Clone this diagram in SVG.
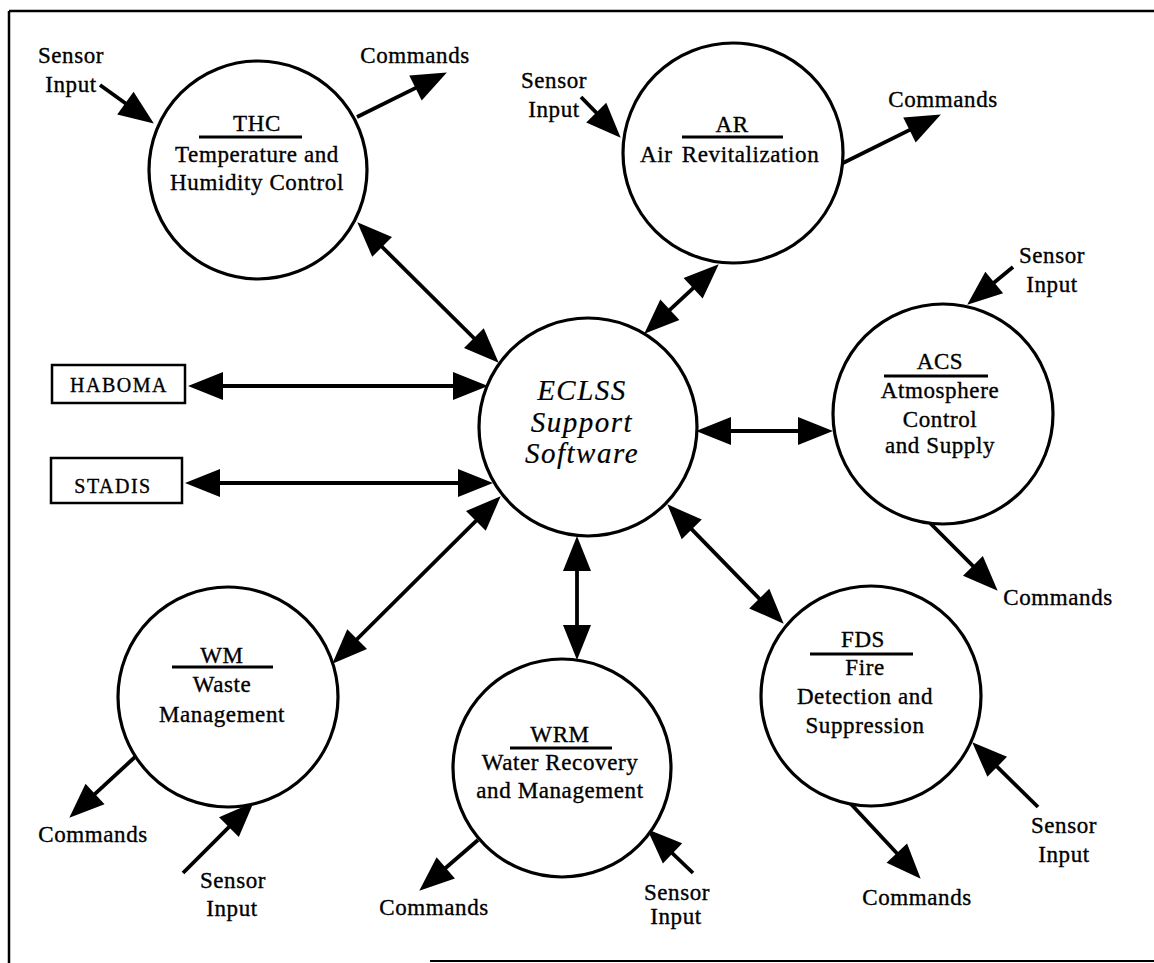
<svg xmlns="http://www.w3.org/2000/svg" width="1154" height="963" viewBox="0 0 1154 963">
<style>
text{font-family:"Liberation Serif","Times New Roman",serif;font-size:23px;fill:#000;stroke:#000;stroke-width:0.35;letter-spacing:0.6px;text-anchor:middle}
.bubble{fill:#fff;stroke:#000;stroke-width:3.2}
.ul{stroke:#000;stroke-width:3.2}
.box{fill:#fff;stroke:#000;stroke-width:2.5}
.boxt{font-size:20px;letter-spacing:1.5px}
.main{font-style:italic;font-size:29px;letter-spacing:1.5px;stroke-width:0.2}
.c line{stroke:#000;stroke-width:3.8;fill:none}
.one{marker-end:url(#ah)}
.two{marker-start:url(#ah);marker-end:url(#ah)}
</style>
<defs>
<marker id="ah" markerUnits="userSpaceOnUse" markerWidth="40" markerHeight="32" refX="24" refY="14" orient="auto-start-reverse" overflow="visible">
<path d="M0,0 L35,14 L0,28 z" fill="#000"/>
</marker>
</defs>
<rect width="1154" height="963" fill="#fff"/>
<g id="frame" fill="none" stroke="#000" stroke-width="2.5">
<line x1="9" y1="11" x2="1154" y2="11"/>
<line x1="9" y1="11" x2="9" y2="963"/>
<line x1="430" y1="961" x2="1154" y2="961" stroke-width="2"/>
</g>
<g id="connectors" class="c">
<line class="one" x1="100" y1="85" x2="144.9" y2="117.2"/>
<line class="one" x1="357" y1="117" x2="437" y2="77.4"/>
<line class="one" x1="581" y1="97" x2="613" y2="129.8"/>
<line class="one" x1="843" y1="163" x2="931" y2="119.4"/>
<line class="two" x1="365.1" y1="230" x2="490.9" y2="355"/>
<line class="two" x1="710.7" y1="271.8" x2="652.3" y2="326.2"/>
<line class="two" x1="199" y1="386" x2="477" y2="386"/>
<line class="two" x1="196" y1="483" x2="482" y2="483"/>
<line class="two" x1="707" y1="431" x2="822" y2="431"/>
<line class="one" x1="1013" y1="267" x2="975.7" y2="297.7"/>
<line class="one" x1="930" y1="523" x2="989.9" y2="582.9"/>
<line class="two" x1="675" y1="512.2" x2="776" y2="615.8"/>
<line class="one" x1="850" y1="803" x2="913.2" y2="870.7"/>
<line class="one" x1="1038" y1="807" x2="980.1" y2="750"/>
<line class="two" x1="577" y1="547" x2="577" y2="649"/>
<line class="one" x1="478" y1="840" x2="427.6" y2="883.5"/>
<line class="one" x1="693" y1="873" x2="655.2" y2="836.9"/>
<line class="two" x1="492.9" y1="504" x2="340.1" y2="656"/>
<line class="one" x1="135" y1="757" x2="77.4" y2="810.2"/>
<line class="one" x1="183" y1="873" x2="245.9" y2="810.1"/>
</g>
<g id="labels">
<text x="71" y="63">Sensor</text><text x="71" y="92">Input</text>
<text x="415" y="63">Commands</text>
<text x="554" y="88">Sensor</text><text x="554" y="117">Input</text>
<text x="943" y="107">Commands</text>
<text x="1052" y="263">Sensor</text><text x="1052" y="292">Input</text>
<text x="1058" y="605">Commands</text>
<text x="917" y="905">Commands</text>
<text x="1064" y="833">Sensor</text><text x="1064" y="862">Input</text>
<text x="434" y="915">Commands</text>
<text x="677" y="900">Sensor</text><text x="676" y="924">Input</text>
<text x="93" y="842">Commands</text>
<text x="233" y="888">Sensor</text><text x="232" y="916">Input</text>
</g>
<g id="THC">
<circle class="bubble" cx="258" cy="170" r="109"/>
<text x="257" y="131">THC</text>
<line class="ul" x1="199" y1="137" x2="302" y2="137"/>
<text x="257" y="162">Temperature and</text>
<text x="257" y="190">Humidity Control</text>
</g>
<g id="AR">
<circle class="bubble" cx="733" cy="153" r="110"/>
<text x="732" y="132">AR</text>
<line class="ul" x1="682" y1="137" x2="783" y2="137"/>
<text x="640" y="162" style="text-anchor:start">Air <tspan dx="3">Revitalization</tspan></text>
</g>
<g id="ECLSS">
<circle class="bubble" cx="588" cy="427" r="109"/>
<text class="main" x="582" y="400">ECLSS</text>
<text class="main" x="582" y="432">Support</text>
<text class="main" x="582" y="463">Software</text>
</g>
<g id="ACS">
<circle class="bubble" cx="943" cy="414" r="110"/>
<text x="940" y="369">ACS</text>
<line class="ul" x1="884" y1="376" x2="988" y2="376"/>
<text x="940" y="398">Atmosphere</text>
<text x="940" y="427">Control</text>
<text x="940" y="453">and Supply</text>
</g>
<g id="FDS">
<circle class="bubble" cx="871" cy="696" r="110"/>
<text x="863" y="647">FDS</text>
<line class="ul" x1="810" y1="654" x2="913" y2="654"/>
<text x="865" y="675">Fire</text>
<text x="865" y="704">Detection and</text>
<text x="865" y="733">Suppression</text>
</g>
<g id="WRM">
<circle class="bubble" cx="562" cy="768" r="109"/>
<text x="560" y="742">WRM</text>
<line class="ul" x1="510" y1="748" x2="612" y2="748"/>
<text x="560" y="770">Water Recovery</text>
<text x="560" y="798">and Management</text>
</g>
<g id="WM">
<circle class="bubble" cx="228" cy="697" r="110"/>
<text x="222" y="663">WM</text>
<line class="ul" x1="172" y1="667" x2="273" y2="667"/>
<text x="222" y="692">Waste</text>
<text x="222" y="722">Management</text>
</g>
<g id="HABOMA">
<rect class="box" x="52" y="365" width="133" height="38"/>
<text class="boxt" x="119" y="392">HABOMA</text>
</g>
<g id="STADIS">
<rect class="box" x="51" y="458" width="131" height="45"/>
<text class="boxt" x="113" y="493">STADIS</text>
</g>
</svg>
